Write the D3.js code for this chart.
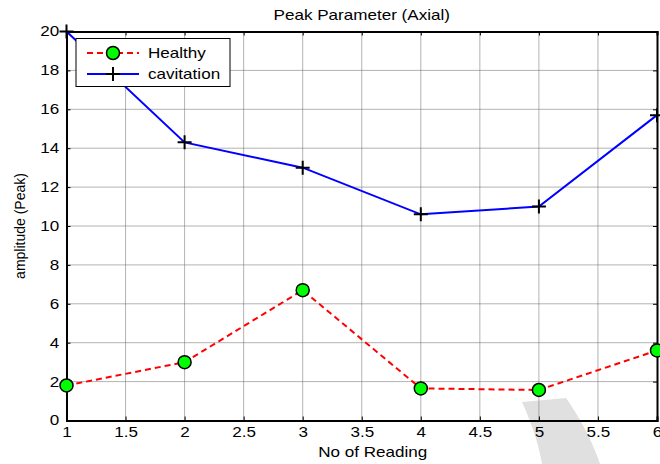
<!DOCTYPE html>
<html>
<head>
<meta charset="utf-8">
<script src="https://cdn.jsdelivr.net/npm/d3@7"></script>
<style>
body { margin: 0; background: #fff; }
svg { display: block; font-family: "Liberation Sans", Arial, sans-serif; }
</style>
</head>
<body>
<svg id="chart" width="660" height="464"></svg>
<script>
// readings and the two series
var readings = [1, 2, 3, 4, 5, 6];
var healthy = [1.8, 3.0, 6.7, 1.65, 1.57, 3.6];
var cavitation = [20, 14.3, 13.0, 10.6, 11.0, 15.7];
var xTicks = [1, 1.5, 2, 2.5, 3, 3.5, 4, 4.5, 5, 5.5, 6];
var yTicks = [0, 2, 4, 6, 8, 10, 12, 14, 16, 18, 20];

var svg = d3.select("#chart");
var plotL = 66.5, plotR = 657, plotT = 31.5, plotB = 420.5;
var sx = 1.22; // the picture is a bit wider than tall, text too

var x = d3.scaleLinear().domain([1, 6]).range([plotL, plotR]);
var y = d3.scaleLinear().domain([0, 20]).range([plotB, plotT]);

// faint watermark arc behind the plot
svg.append("path")
  .attr("d", "M522,402 C530,420 538,440 542,464 L600,464 C592,440 580,418 566,398 Z")
  .attr("fill", "#e0e0e0");

// grid
var grid = svg.append("g");
grid.selectAll("line.v").data(xTicks.slice(1, -1)).enter().append("line")
  .attr("x1", d => x(d)).attr("x2", d => x(d))
  .attr("y1", plotT).attr("y2", plotB)
  .attr("stroke", "#666").attr("stroke-width", 1).attr("stroke-dasharray", "1,1");
grid.selectAll("line.h").data(yTicks.slice(1, -1)).enter().append("line")
  .attr("x1", plotL).attr("x2", plotR)
  .attr("y1", d => y(d)).attr("y2", d => y(d))
  .attr("stroke", "#666").attr("stroke-width", 1).attr("stroke-dasharray", "1,1");

// axes
svg.append("g").attr("transform", "translate(0," + plotB + ")")
  .call(d3.axisBottom(x).tickValues(xTicks).tickSize(-4).tickPadding(7).tickFormat(d3.format("")));
svg.append("g").attr("transform", "translate(" + plotL + ",0)")
  .call(d3.axisLeft(y).tickValues(yTicks).tickSize(-4).tickPadding(6));
svg.append("g").attr("transform", "translate(0," + plotT + ")")
  .call(d3.axisTop(x).tickValues(xTicks).tickSize(-4).tickFormat(""));
svg.append("g").attr("transform", "translate(" + plotR + ",0)")
  .call(d3.axisRight(y).tickValues(yTicks).tickSize(-4).tickFormat(""));

svg.selectAll(".domain").attr("stroke", "#000").attr("stroke-width", 2);
svg.selectAll(".tick line").attr("stroke", "#000");
svg.selectAll(".tick text").attr("font-size", 14).attr("fill", "#000")
  .attr("font-family", "Liberation Sans, Arial, sans-serif")
  .attr("transform", "scale(" + sx + ",1)");

// titles
svg.append("text").attr("transform", "translate(" + ((plotL + plotR) / 2) + ",20) scale(" + sx + ",1)")
  .attr("text-anchor", "middle").attr("font-size", 14).text("Peak Parameter (Axial)");
svg.append("text").attr("transform", "translate(" + ((plotL + plotR) / 2 + 11) + ",457) scale(" + sx + ",1)")
  .attr("text-anchor", "middle").attr("font-size", 14).text("No of Reading");
svg.append("text").attr("transform", "translate(25," + (plotT + plotB) / 2 + ") rotate(-90)")
  .attr("text-anchor", "middle").attr("font-size", 14).text("amplitude (Peak)");

// lines
var line = d3.line().x((d, i) => x(readings[i])).y(d => y(d));
svg.append("path").datum(cavitation).attr("d", line)
  .attr("fill", "none").attr("stroke", "#0000ff").attr("stroke-width", 2);
svg.append("path").datum(healthy).attr("d", line)
  .attr("fill", "none").attr("stroke", "#ff0000").attr("stroke-width", 2)
  .attr("stroke-dasharray", "6,4");

// markers
function plus(g, cx, cy) {
  g.append("path").attr("d", "M" + (cx - 7) + "," + cy + "H" + (cx + 7) + "M" + cx + "," + (cy - 7) + "V" + (cy + 7))
    .attr("stroke", "#000").attr("stroke-width", 2);
}
cavitation.forEach(function(d, i) { plus(svg, x(readings[i]), y(d)); });
svg.selectAll("circle.h").data(healthy).enter().append("circle")
  .attr("cx", (d, i) => x(readings[i])).attr("cy", d => y(d))
  .attr("r", 6.5).attr("fill", "#00ff00").attr("stroke", "#000").attr("stroke-width", 1.5);

// legend
var lg = svg.append("g");
lg.append("rect").attr("x", 76).attr("y", 38.5).attr("width", 154).attr("height", 48)
  .attr("fill", "#fff").attr("stroke", "#000").attr("stroke-width", 1);
lg.append("line").attr("x1", 87).attr("x2", 139).attr("y1", 53).attr("y2", 53)
  .attr("stroke", "#ff0000").attr("stroke-width", 2).attr("stroke-dasharray", "6,4");
lg.append("circle").attr("cx", 113).attr("cy", 53).attr("r", 6.5)
  .attr("fill", "#00ff00").attr("stroke", "#000").attr("stroke-width", 1.5);
lg.append("line").attr("x1", 87).attr("x2", 139).attr("y1", 74).attr("y2", 74)
  .attr("stroke", "#0000ff").attr("stroke-width", 2);
plus(lg, 113, 74);
lg.append("text").attr("transform", "translate(148,58) scale(" + sx + ",1)").attr("font-size", 14).text("Healthy");
lg.append("text").attr("transform", "translate(148,79) scale(" + sx + ",1)").attr("font-size", 14).text("cavitation");
</script>
</body>
</html>
